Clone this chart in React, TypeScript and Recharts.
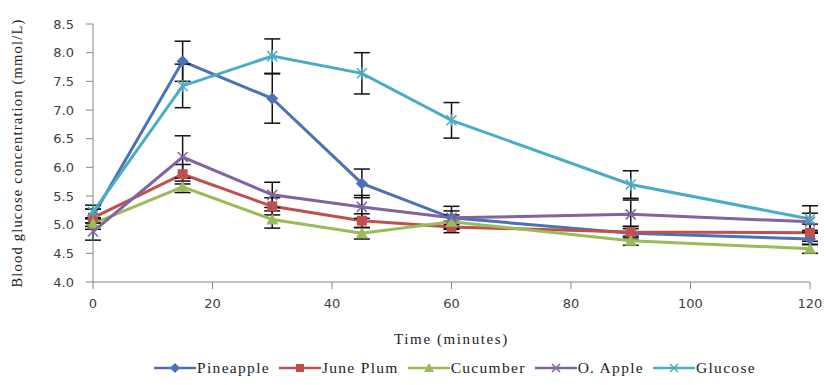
import React from "react"
import { LineChart, Line, XAxis, YAxis, ErrorBar, Legend } from "recharts"

// minutes after intake
const times = [0, 15, 30, 45, 60, 90, 120]

// mean blood glucose (mmol/L) per test food
const pineapple = [5.15, 7.85, 7.2, 5.72, 5.12, 4.85, 4.75]
const junePlum = [5.12, 5.88, 5.32, 5.07, 4.96, 4.87, 4.86]
const cucumber = [5.02, 5.66, 5.09, 4.85, 5.05, 4.72, 4.58]
const oApple = [4.88, 6.18, 5.52, 5.31, 5.12, 5.18, 5.05]
const glucose = [5.22, 7.42, 7.94, 7.64, 6.82, 5.7, 5.1]

// standard error bars
const pineappleErr = [0.12, 0.35, 0.43, 0.25, 0.2, 0.12, 0.1]
const junePlumErr = [0.15, 0.17, 0.15, 0.12, 0.1, 0.1, 0.15]
const cucumberErr = [0.1, 0.1, 0.15, 0.1, 0.12, 0.08, 0.08]
const oAppleErr = [0.15, 0.37, 0.22, 0.2, 0.12, 0.25, 0.15]
const glucoseErr = [0.12, 0.38, 0.3, 0.36, 0.31, 0.24, 0.23]

const xTicks = [0, 20, 40, 60, 80, 100, 120]
const yTicks = [4.0, 4.5, 5.0, 5.5, 6.0, 6.5, 7.0, 7.5, 8.0, 8.5]

type Shape = "diamond" | "square" | "triangle" | "x" | "star"

const series: { key: string; name: string; color: string; shape: Shape }[] = [
  { key: "pineapple", name: "Pineapple", color: "#4A72B5", shape: "diamond" },
  { key: "junePlum", name: "June Plum", color: "#C0504D", shape: "square" },
  { key: "cucumber", name: "Cucumber", color: "#9BBB59", shape: "triangle" },
  { key: "oApple", name: "O. Apple", color: "#8064A2", shape: "x" },
  { key: "glucose", name: "Glucose", color: "#4BACC6", shape: "star" },
]

const data = times.map((t, i) => ({
  time: t,
  pineapple: pineapple[i],
  pineappleErr: pineappleErr[i],
  junePlum: junePlum[i],
  junePlumErr: junePlumErr[i],
  cucumber: cucumber[i],
  cucumberErr: cucumberErr[i],
  oApple: oApple[i],
  oAppleErr: oAppleErr[i],
  glucose: glucose[i],
  glucoseErr: glucoseErr[i],
}))

function Marker({ shape, color, cx, cy, s = 5 }: { shape: Shape; color: string; cx: number; cy: number; s?: number }) {
  if (shape === "diamond")
    return <path d={`M${cx},${cy - s - 1}L${cx + s + 1},${cy}L${cx},${cy + s + 1}L${cx - s - 1},${cy}Z`} fill={color} />
  if (shape === "square") return <rect x={cx - s} y={cy - s} width={s * 2} height={s * 2} fill={color} />
  if (shape === "triangle")
    return <path d={`M${cx},${cy - s - 1}L${cx + s + 1},${cy + s}L${cx - s - 1},${cy + s}Z`} fill={color} />
  const x = (
    <path d={`M${cx - s},${cy - s}L${cx + s},${cy + s}M${cx - s},${cy + s}L${cx + s},${cy - s}`} stroke={color} strokeWidth={1.5} />
  )
  if (shape === "x") return x
  return (
    <g>
      {x}
      <path d={`M${cx},${cy - s - 1}L${cx},${cy + s + 1}`} stroke={color} strokeWidth={1.5} />
    </g>
  )
}

const makeDot = (shape: Shape, color: string) => (props: any) => {
  const { cx, cy, index } = props
  return <Marker key={`${shape}-${index}`} shape={shape} color={color} cx={cx} cy={cy} />
}

function LegendContent() {
  return (
    <div style={{ display: "flex", justifyContent: "center", alignItems: "center", gap: 9, paddingLeft: 90, paddingTop: 8 }}>
      {series.map((s) => (
        <div key={s.key} style={{ display: "flex", alignItems: "center" }}>
          <svg width={42} height={14}>
            <line x1={0} y1={7} x2={42} y2={7} stroke={s.color} strokeWidth={2.5} />
            <Marker shape={s.shape === "star" ? "x" : s.shape} color={s.color} cx={21} cy={7} s={4} />
          </svg>
          <span
            style={{
              fontFamily: "'Liberation Serif', serif",
              fontSize: 15.5,
              letterSpacing: 1.3,
              color: "#222",
              marginLeft: 1,
            }}
          >
            {s.name}
          </span>
        </div>
      ))}
    </div>
  )
}

const tickStyle = { fontFamily: "'DejaVu Sans', sans-serif", fontSize: 13, fill: "#404040" }
const titleStyle = { fontFamily: "'Liberation Serif', serif", fontSize: 15, fill: "#222" }

export default function App() {
  return (
    <div style={{ position: "absolute", left: 0, top: 0, width: 826, height: 385, background: "#fff" }}>
      <LineChart width={826} height={385} data={data} margin={{ top: 24, right: 16, left: 10, bottom: 3 }}>
        <XAxis
          dataKey="time"
          type="number"
          domain={[0, 120]}
          ticks={xTicks}
          height={69}
          tick={tickStyle}
          tickSize={7}
          tickMargin={10}
          stroke="#868686"
          label={{
            value: "Time (minutes)",
            position: "insideBottom",
            offset: 7,
            style: { ...titleStyle, letterSpacing: 1.6 },
          }}
        />
        <YAxis
          type="number"
          domain={[4, 8.5]}
          ticks={yTicks}
          tickFormatter={(v) => v.toFixed(1)}
          width={83}
          tick={tickStyle}
          tickSize={7}
          tickMargin={12}
          stroke="#868686"
          label={{
            value: "Blood glucose concentration (mmol/L)",
            angle: -90,
            position: "insideLeft",
            offset: 7,
            style: { ...titleStyle, fontSize: 14.5, letterSpacing: 1.2, textAnchor: "middle" },
          }}
        />
        <Legend verticalAlign="bottom" height={31} content={() => <LegendContent />} />
        {series.map((s) => (
          <Line
            key={s.key}
            dataKey={s.key}
            name={s.name}
            stroke={s.color}
            strokeWidth={3}
            dot={makeDot(s.shape, s.color)}
            activeDot={false}
            isAnimationActive={false}
          >
            <ErrorBar dataKey={`${s.key}Err`} direction="y" width={8} stroke="#111" strokeWidth={1.5} />
          </Line>
        ))}
      </LineChart>
    </div>
  )
}
